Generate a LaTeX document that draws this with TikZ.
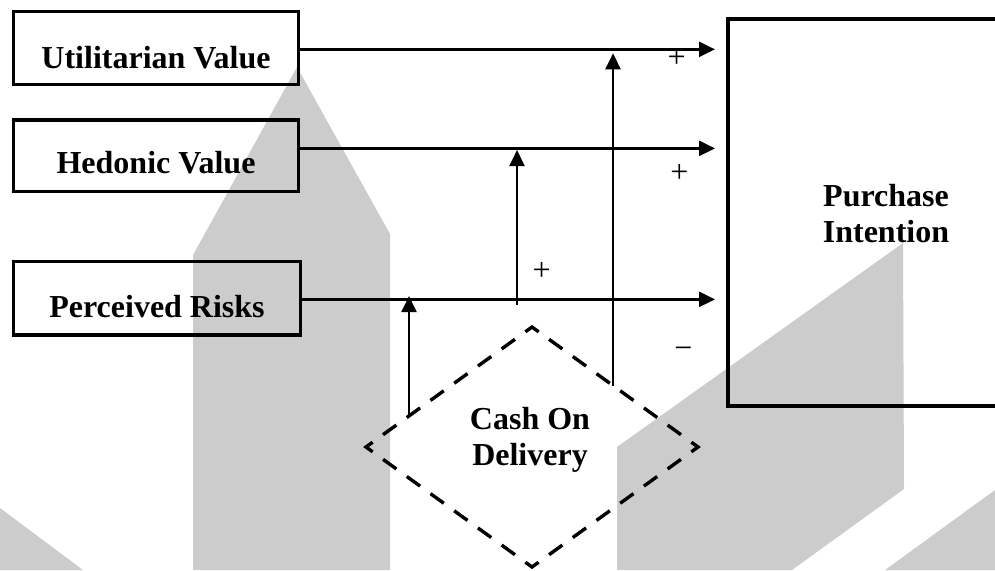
\documentclass[tikz,border=0pt]{standalone}
\usepackage{fontspec}
\setmainfont{Liberation Serif}
\usetikzlibrary{arrows.meta,calc,shapes.geometric}
\definecolor{wm}{HTML}{CCCCCC}
\begin{document}
\begin{tikzpicture}[x=0.5pt,y=-0.5pt,
  box/.style={draw, line width=1.7pt, rectangle, inner sep=0pt},
  lbl/.style={font=\fontsize{16}{18}\selectfont\bfseries, inner sep=0pt},
  sgn/.style={font=\fontsize{16}{18}\selectfont, inner sep=0pt},
  arr/.style={line width=1.25pt, -{Triangle[length=8pt,width=7.5pt]}},
  dashbox/.style={line width=1.7pt, dash pattern=on 8.2pt off 6.43pt, dash phase=11.4pt}]
\clip (0,0) rectangle (995,570);
% watermark shapes
\fill[wm] (193,570) -- (193,255) -- (297,67) -- (297,570) -- cycle;
\fill[wm] (297,570) -- (297,67) -- (390,234) -- (390,570) -- cycle;
\fill[wm] (0,508) -- (83,570) -- (0,570) -- cycle;
\fill[wm] (617,570) -- (617,447) -- (903,243) -- (904,489) -- (792,570) -- cycle;
\fill[wm] (885,570) -- (995,490) -- (995,570) -- cycle;
% boxes
\node[box, minimum width=142.6pt, minimum height=36.3pt] (uv) at (155.9,48) {};
\node[box, minimum width=142.6pt, minimum height=35.75pt] (hv) at (155.9,155.75) {};
\node[box, minimum width=143.6pt, minimum height=36.65pt] (pr) at (156.9,298.35) {};
\node[box, line width=1.9pt, minimum width=158pt, minimum height=193.35pt] (pi) at (886,212.65) {};
% box texts
\node[lbl, anchor=base] (uvt) at (156,68) {Utilitarian Value};
\node[lbl, anchor=base] (hvt) at (156,173.3) {Hedonic Value};
\node[lbl, anchor=base] (prt) at (157,317.7) {Perceived Risks};
\node[lbl, align=center, anchor=base] (pit) at (886,242.7) {Purchase\\Intention};
% diamond
\node[diamond, minimum width=166pt, minimum height=120pt, inner sep=0pt, outer sep=0pt] (cod) at (532,447) {};
\draw[dashbox] ($(cod.west)!0.5!(cod.north)$) -- (cod.north) -- (cod.east) -- (cod.south) -- (cod.west) -- cycle;
\node[lbl, align=center, anchor=base] (codt) at (530,465) {Cash On\\Delivery};
% horizontal arrows
\coordinate (uvo) at ([yshift=-0.65pt]uv.east);
\coordinate (hvo) at ([yshift=3.7pt]hv.east);
\coordinate (pro) at ([yshift=-0.5pt]pr.east);
\draw[arr, shorten >=5.55pt] (uvo) -- (uvo -| pi.west);
\draw[arr, shorten >=5.55pt] (hvo) -- (hvo -| pi.west);
\draw[arr, shorten >=5.55pt] (pro) -- (pro -| pi.west);
% vertical arrows
\coordinate (d1) at ($(cod.west)!0.259!(cod.north)$);
\draw[arr, shorten >=-1.65pt] (d1) -- (d1 |- pro);
\coordinate (m2) at (517,305);
\draw[arr, shorten >=0.85pt] (m2) -- (m2 |- hvo);
\coordinate (d3) at ($(cod.east)!0.512!(cod.north)$);
\draw[arr, shorten >=2pt] (d3) -- (d3 |- uvo);
% signs
\node[sgn, anchor=base] (p1) at (676.7,67.3) {+};
\node[sgn, anchor=base] (p2) at (679.3,182) {+};
\node[sgn, anchor=base] (p3) at (541.7,280.3) {+};
\node[sgn, anchor=base] (m1) at (683.3,358) {−};
\end{tikzpicture}
\end{document}
